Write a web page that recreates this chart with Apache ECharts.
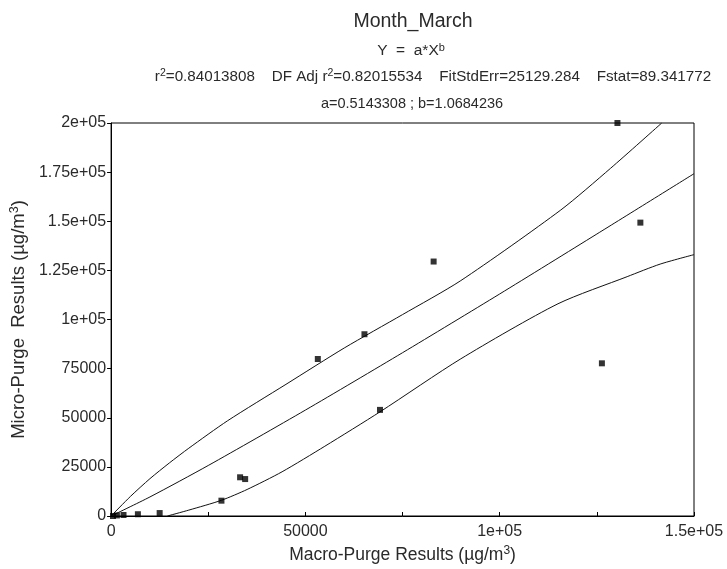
<!DOCTYPE html>
<html>
<head>
<meta charset="utf-8">
<script src="https://cdn.jsdelivr.net/npm/echarts@6/dist/echarts.min.js"></script>
<style>html,body{margin:0;padding:0;background:#fff}#c{width:727px;height:569px}</style>
</head>
<body>
<div id="c"></div>
<script>
// Observed points (Macro-Purge x, Micro-Purge y)
var pointX = [500, 1500, 3200, 6900, 12500, 28400, 33200, 34500, 53200, 65200, 69200, 83000, 126300, 130300, 136200];
var pointY = [0, 300, 500, 900, 1500, 7800, 19700, 18800, 79900, 92500, 54000, 129500, 77700, 200000, 149300];

// Fitted curve
var fitX = [0, 10000, 25000, 50000, 75000, 100000, 125000, 150000];
var fitY = [0, 9700, 25700, 53900, 83100, 113000, 143500, 174200];

// Upper confidence band
var upperX = [0, 5000, 10000, 15000, 20000, 30000, 45000, 60000, 75000, 90000, 115700, 128500, 141700];
var upperY = [0, 10000, 19000, 27000, 34500, 48500, 67000, 85500, 102500, 119800, 155700, 176900, 200000];

// Lower confidence band
var lowerX = [14500, 20000, 28400, 35000, 44000, 55000, 69200, 90000, 115000, 132800, 141300, 150000];
var lowerY = [0, 3000, 8000, 13500, 22500, 35500, 53000, 80000, 108000, 121800, 128200, 133000];

var xTicks = {0: '0', 50000: '50000', 100000: '1e+05', 150000: '1.5e+05'};
var yTicks = {0: '0', 25000: '25000', 50000: '50000', 75000: '75000', 100000: '1e+05', 125000: '1.25e+05', 150000: '1.5e+05', 175000: '1.75e+05', 200000: '2e+05'};

function zip(a, b) { return a.map(function (v, i) { return [v, b[i]]; }); }

var FONT = 'Liberation Sans, Arial, sans-serif';
var TXT = '#2a2a2a';
var chart = echarts.init(document.getElementById('c'), null, {renderer: 'canvas'});
function sup(size, pad) { return {fontSize: size, verticalAlign: 'top', padding: [0, 0, pad, 0], fontFamily: FONT, color: TXT}; }
chart.setOption({
  backgroundColor: '#fff',
  animation: false,
  title: [
    {text: 'Month_March', left: 408, top: 7, textAlign: 'center',
     textStyle: {fontSize: 19.5, fontWeight: 'normal', color: TXT, fontFamily: FONT}},
    {text: 'Y  =  a*X{s|b}', left: 406, top: 37, textAlign: 'center',
     textStyle: {fontSize: 15.5, fontWeight: 'normal', color: TXT, fontFamily: FONT, rich: {s: sup(11, 6)}}},
    {text: 'r{s|2}=0.84013808    DF Adj r{s|2}=0.82015534    FitStdErr=25129.284    Fstat=89.341772', left: 428, top: 63, textAlign: 'center',
     textStyle: {fontSize: 15.2, fontWeight: 'normal', color: TXT, fontFamily: FONT, rich: {s: sup(10.5, 6)}}},
    {text: 'a=0.5143308 ; b=1.0684236', left: 407, top: 91, textAlign: 'center',
     textStyle: {fontSize: 14.5, fontWeight: 'normal', color: TXT, fontFamily: FONT}}
  ],
  grid: {left: 108, right: 33, top: 123, bottom: 53, show: true, borderColor: '#000', borderWidth: 1, backgroundColor: '#fff'},
  xAxis: {
    type: 'value', min: 0, max: 150000, interval: 25000,
    name: 'Macro-Purge Results (µg/m{s|3})', nameLocation: 'middle', nameGap: 27,
    nameTextStyle: {fontSize: 17.5, color: TXT, fontFamily: FONT, rich: {s: sup(12, 8)}},
    axisLine: {lineStyle: {color: '#000', width: 1}},
    axisTick: {inside: true, length: 4, lineStyle: {color: '#000'}},
    splitLine: {show: false},
    axisLabel: {fontSize: 16, color: TXT, fontFamily: FONT, margin: 8,
      formatter: function (v) { return xTicks[v] !== undefined ? xTicks[v] : ''; }}
  },
  yAxis: {
    type: 'value', min: 0, max: 200000, interval: 25000,
    name: 'Micro-Purge  Results (µg/m{s|3})', nameLocation: 'middle', nameGap: 62, nameRotate: 90,
    nameTextStyle: {fontSize: 18.5, color: TXT, fontFamily: FONT, rich: {s: sup(12.5, 8)}},
    axisLine: {lineStyle: {color: '#000', width: 1}},
    axisTick: {inside: false, length: 4, lineStyle: {color: '#000'}},
    splitLine: {show: false},
    axisLabel: {fontSize: 16, color: TXT, fontFamily: FONT, margin: 5,
      formatter: function (v) { return yTicks[v] !== undefined ? yTicks[v] : ''; }}
  },
  series: [
    {type: 'line', data: zip(fitX, fitY), smooth: 0.25, showSymbol: false, lineStyle: {color: '#111', width: 1}},
    {type: 'line', data: zip(upperX, upperY), smooth: 0.25, showSymbol: false, lineStyle: {color: '#111', width: 1}},
    {type: 'line', data: zip(lowerX, lowerY), smooth: 0.25, showSymbol: false, lineStyle: {color: '#111', width: 1}},
    {type: 'scatter', data: zip(pointX, pointY), symbol: 'rect', symbolSize: 6, itemStyle: {color: '#000'}, clip: false, z: 5}
  ]
});
</script>
</body>
</html>
